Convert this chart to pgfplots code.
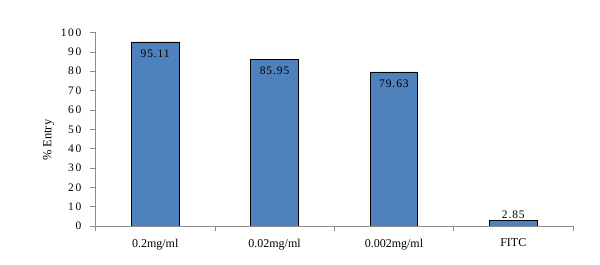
\documentclass[border=0pt]{standalone}
\usepackage{pgfplots}
\pgfplotsset{compat=1.18}
\usepackage{fontspec}
\setmainfont{Liberation Serif}
\definecolor{barblue}{HTML}{4F81BD}
\definecolor{axgray}{HTML}{8C8C8C}
\begin{document}
\fontsize{11.5bp}{13bp}\selectfont
\begin{tikzpicture}
\begin{axis}[
  name=ax,
  scale only axis,
  width=477.5bp, height=193.5bp,
  xmin=-0.5, xmax=3.5, ymin=0, ymax=100,
  axis x line*=bottom, axis y line*=left,
  axis line style={axgray, line width=0.7pt},
  tick align=outside,
  major tick length=5bp, minor tick length=5bp,
  tick style={axgray, line width=0.7pt},
  ytick={0,10,...,100},
  xtick={0,1,2,3},
  xticklabels={0.2mg/ml,0.02mg/ml,0.002mg/ml,FITC},
  major x tick style={draw=none},
  minor xtick={-0.5,0.5,1.5,2.5,3.5},
  /pgf/number format/assume math mode=true,
  yticklabel style={font=\fontsize{11.5bp}{13bp}\selectfont\addfontfeatures{LetterSpace=15}, xshift=-5bp},
  xticklabel style={font=\fontsize{12bp}{14bp}\selectfont, yshift=-4bp},
  ylabel={\% Entry},
  ylabel style={at={(rel axis cs:-0.0984,0.443)}, anchor=center, font=\fontsize{12.5bp}{14bp}\selectfont},
  ybar, bar width=0.4, bar shift=0pt,
  nodes near coords,
  point meta=explicit symbolic,
]
\addplot[fill=barblue, draw=black, line width=0.8pt,
  nodes near coords style={anchor=north, yshift=-3.3bp, black, font=\fontsize{11.5bp}{13bp}\selectfont\addfontfeatures{LetterSpace=8}}]
  coordinates {(0,95.11) [95.11] (1,85.95) [85.95] (2,79.63) [79.63]};
\addplot[fill=barblue, draw=black, line width=0.8pt,
  nodes near coords style={anchor=south, yshift=-2bp, black, font=\fontsize{11.5bp}{13bp}\selectfont\addfontfeatures{LetterSpace=8}}]
  coordinates {(3,2.85) [2.85]};
\end{axis}
\pgfresetboundingbox
\path[use as bounding box] (ax.south west) ++(-95.5bp,-39bp) rectangle ++(600bp,265bp);
\end{tikzpicture}
\end{document}
